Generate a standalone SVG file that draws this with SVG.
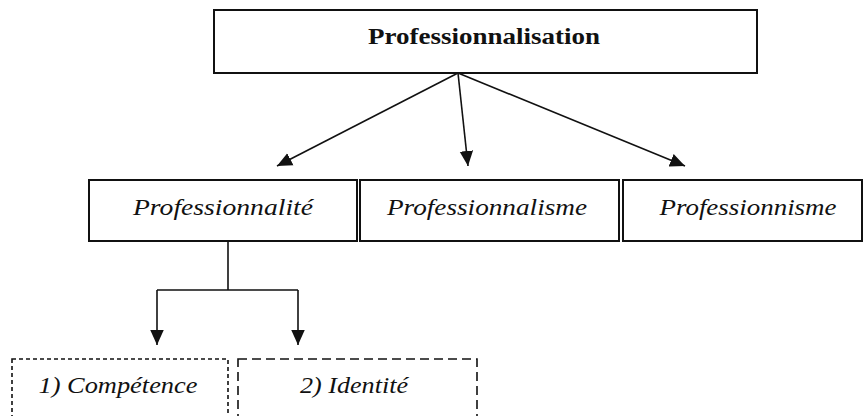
<svg xmlns="http://www.w3.org/2000/svg" width="865" height="416" viewBox="0 0 865 416">
<style>
.box{fill:#fff;stroke:#111;stroke-width:2}
.dash1{fill:#fff;stroke:#111;stroke-width:1.6;stroke-dasharray:4 3}
.dash2{fill:#fff;stroke:#111;stroke-width:1.6;stroke-dasharray:9 5}
.t{font-family:"Liberation Serif","Times New Roman",serif;fill:#111}
.b{font-weight:bold;font-size:24px}
.i{font-style:italic;font-size:23px}
.c{fill:none;stroke:#111;stroke-width:1.6}
</style>
<defs>
<marker id="ah" viewBox="0 0 10 10" refX="10" refY="5" markerWidth="15" markerHeight="15" markerUnits="userSpaceOnUse" orient="auto">
<path d="M0,0.5 L10,5 L0,9.5 Z" fill="#111"/>
</marker>
</defs>
<rect width="865" height="416" fill="#fff"/>
<g id="connectors">
<line class="c" x1="458" y1="73" x2="277" y2="166" marker-end="url(#ah)"/>
<line class="c" x1="458" y1="73" x2="468" y2="166" marker-end="url(#ah)"/>
<line class="c" x1="458" y1="73" x2="685" y2="166" marker-end="url(#ah)"/>
<path class="c" d="M228,241 V290 M157,290 H298"/>
<line class="c" x1="157" y1="290" x2="157" y2="345" marker-end="url(#ah)"/>
<line class="c" x1="298" y1="290" x2="298" y2="345" marker-end="url(#ah)"/>
</g>
<g id="n-professionnalisation">
<rect class="box" x="214" y="10" width="543" height="63"/>
<text class="t b" x="484" y="44" text-anchor="middle" textLength="232" lengthAdjust="spacingAndGlyphs">Professionnalisation</text>
</g>
<g id="n-professionnalite">
<rect class="box" x="89" y="180" width="268" height="61"/>
<text class="t i" x="223" y="215" text-anchor="middle" textLength="180" lengthAdjust="spacingAndGlyphs">Professionnalité</text>
</g>
<g id="n-professionnalisme">
<rect class="box" x="360" y="180" width="259" height="61"/>
<text class="t i" x="487" y="215" text-anchor="middle" textLength="200" lengthAdjust="spacingAndGlyphs">Professionnalisme</text>
</g>
<g id="n-professionnisme">
<rect class="box" x="623" y="180" width="239" height="61"/>
<text class="t i" x="748" y="215" text-anchor="middle" textLength="177" lengthAdjust="spacingAndGlyphs">Professionnisme</text>
</g>
<g id="n-competence">
<rect class="dash1" x="12" y="359" width="216" height="80"/>
<text class="t i" x="118" y="393" text-anchor="middle" textLength="159" lengthAdjust="spacingAndGlyphs">1) Compétence</text>
</g>
<g id="n-identite">
<rect class="dash2" x="238" y="359" width="239" height="80"/>
<text class="t i" x="354" y="393" text-anchor="middle" textLength="108" lengthAdjust="spacingAndGlyphs">2) Identité</text>
</g>
</svg>
